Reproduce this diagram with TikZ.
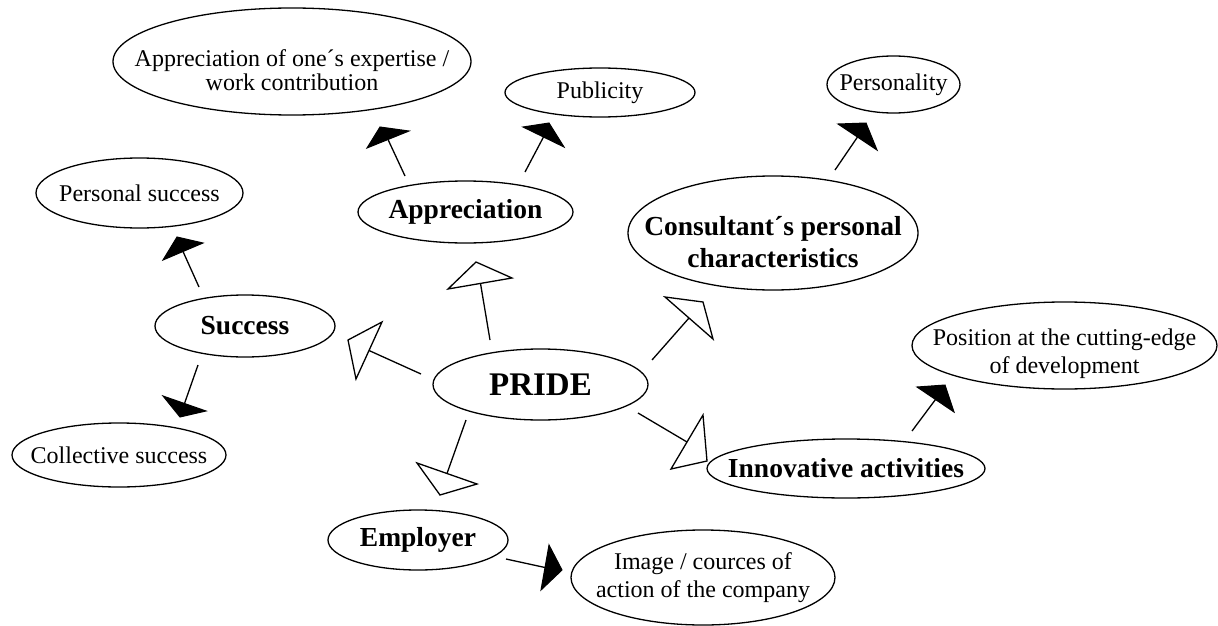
\documentclass[tikz,border=0pt]{standalone}
\usepackage{fontspec}
\setmainfont{Liberation Serif}
\usetikzlibrary{shapes.geometric}
\tikzset{
  ring/.style={ellipse, draw, line width=1.3pt, inner sep=0pt},
  plaintxt/.style={align=center, inner sep=0pt, font=\fontsize{24}{27.6}\selectfont},
  boldtxt/.style={align=center, inner sep=0pt, font=\fontsize{27.5}{31.8}\selectfont\bfseries},
  bigtxt/.style={align=center, inner sep=0pt, font=\fontsize{33}{38}\selectfont\bfseries},
  lnk/.style={line width=1.3pt},
  hollowtip/.style={draw, line width=1.3pt, fill=white, line join=miter},
  solidtip/.style={draw, line width=1pt, fill=black, line join=miter}
}
\begin{document}
\begin{tikzpicture}[x=1pt,y=-1pt]
\useasboundingbox (0,0) rectangle (1218,626);
% ellipses
\node[ring, minimum width=358, minimum height=107] (expertise) at (292,61.5) {};
\node[plaintxt, font=\fontsize{24}{24.5}\selectfont] (expertise-t) at (292,70) {Appreciation of one´s expertise /\\work contribution};
\node[ring, minimum width=190, minimum height=49] (publicity) at (600,92.5) {};
\node[plaintxt] (publicity-t) at (publicity) {Publicity};
\node[ring, minimum width=133, minimum height=57] (personality) at (893.5,84.5) {};
\node[plaintxt] (personality-t) at (personality) {Personality};
\node[ring, minimum width=207, minimum height=70] (personal) at (139.5,193) {};
\node[plaintxt] (personal-t) at (personal) {Personal success};
\node[ring, minimum width=215, minimum height=62] (appreciation) at (465.5,212) {};
\node[boldtxt] (appreciation-t) at (appreciation) {Appreciation};
\node[ring, minimum width=290, minimum height=114] (consultant) at (773,233) {};
\node[boldtxt] (consultant-t) at (773,242) {Consultant´s personal\\characteristics};
\node[ring, minimum width=180, minimum height=62] (success) at (245,326) {};
\node[boldtxt] (success-t) at (success) {Success};
\node[ring, minimum width=215, minimum height=71] (pride) at (540.5,384.5) {};
\node[bigtxt] (pride-t) at (pride) {PRIDE};
\node[ring, minimum width=305, minimum height=87] (position) at (1064.5,345.5) {};
\node[plaintxt] (position-t) at (1064.5,354) {Position at the cutting-edge\\of development};
\node[ring, minimum width=214, minimum height=64] (collective) at (119,455) {};
\node[plaintxt] (collective-t) at (collective) {Collective success};
\node[ring, minimum width=278, minimum height=59] (innovative) at (846,468.5) {};
\node[boldtxt] (innovative-t) at (innovative) {Innovative activities};
\node[ring, minimum width=180, minimum height=60] (employer) at (418,540) {};
\node[boldtxt] (employer-t) at (employer) {Employer};
\node[ring, minimum width=264, minimum height=95] (image) at (703,577.5) {};
\node[plaintxt] (image-t) at (image) {Image / cources of\\action of the company};

% connector end points
\coordinate (a-s) at (490,340);   \coordinate (a-b) at (480.5,283.5);
\coordinate (b-s) at (421,374);   \coordinate (b-b) at (369,350.5);
\coordinate (c-s) at (652,360);   \coordinate (c-b) at (689,318);
\coordinate (d-s) at (638,413);   \coordinate (d-b) at (687,442);
\coordinate (e-s) at (466,420);   \coordinate (e-b) at (447,473.5);
\coordinate (f-s) at (405,176);   \coordinate (f-b) at (388,139.5);
\coordinate (g-s) at (525,172);   \coordinate (g-b) at (543.5,137);
\coordinate (h-s) at (199,287);   \coordinate (h-b) at (183,251.5);
\coordinate (i-s) at (198,365);   \coordinate (i-b) at (184.5,403.5);
\coordinate (j-s) at (835,170);   \coordinate (j-b) at (857.5,137);
\coordinate (k-s) at (912,431);   \coordinate (k-b) at (935.5,399.5);
\coordinate (l-s) at (506,559);   \coordinate (l-b) at (545,567.5);

% connector lines
\foreach \c in {a,b,c,d,e,f,g,h,i,j,k,l}
  \draw[lnk] (\c-s) -- (\c-b);

% hollow heads: PRIDE -> categories
\draw[hollowtip] (448,289) -- (476,262) -- (512,278) -- cycle;
\draw[hollowtip] (382,322) -- (348,340) -- (356,379) -- cycle;
\draw[hollowtip] (665,297) -- (703,302) -- (713,339) -- cycle;
\draw[hollowtip] (703,415) -- (707,461) -- (671,469) -- cycle;
\draw[hollowtip] (417,463) -- (440,495) -- (477,484) -- cycle;

% solid heads: categories -> items
\draw[solidtip] (367,148) -- (380,127) -- (409,131) -- cycle;
\draw[solidtip] (523,127) -- (549,123) -- (564,147) -- cycle;
\draw[solidtip] (163,260) -- (177,237) -- (203,243) -- cycle;
\draw[solidtip] (163,396) -- (180,417) -- (206,411) -- cycle;
\draw[solidtip] (838,124) -- (866,123) -- (877,150) -- cycle;
\draw[solidtip] (917,387) -- (945,385) -- (954,412) -- cycle;
\draw[solidtip] (549,545) -- (562,570) -- (541,590) -- cycle;
\end{tikzpicture}
\end{document}
